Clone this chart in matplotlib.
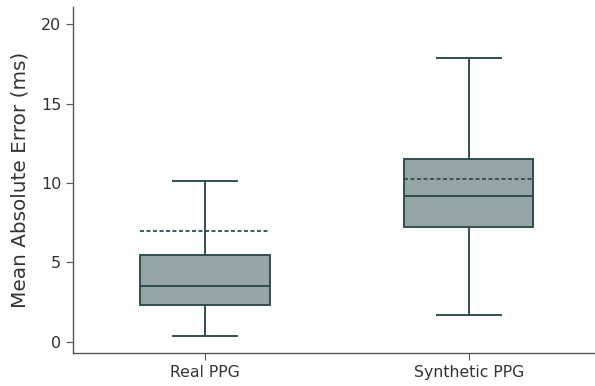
import matplotlib
matplotlib.use("Agg")
import matplotlib.pyplot as plt

categories = ["Real PPG", "Synthetic PPG"]
whislo = [0.35, 1.7]
q1 = [2.3, 7.25]
med = [3.5, 9.2]
q3 = [5.45, 11.5]
whishi = [10.1, 17.85]
means = [7.0, 10.25]

edge = "#2f4f4f"
fill = "#95a5a3"

fig = plt.figure(figsize=(5.95, 3.86), dpi=100)
ax = fig.add_axes([0.1227, 0.0855, 0.887, 0.897])

stats = []
for i, c in enumerate(categories):
    stats.append(dict(label=c, whislo=whislo[i], q1=q1[i], med=med[i],
                      q3=q3[i], whishi=whishi[i], mean=means[i], fliers=[]))

lw = 1.4
ax.bxp(stats, positions=[0, 1], widths=0.49, capwidths=0.245,
       showmeans=True, meanline=True, patch_artist=True,
       boxprops=dict(facecolor=fill, edgecolor=edge, linewidth=lw),
       medianprops=dict(color=edge, linewidth=lw),
       whiskerprops=dict(color=edge, linewidth=lw),
       capprops=dict(color=edge, linewidth=lw),
       meanprops=dict(color=edge, linewidth=1.3, linestyle=(0, (2.2, 1.4))))

ax.set_xlim(-0.5, 1.5)
ax.set_ylim(-0.7, 21.1)
ax.set_yticks([0, 5, 10, 15, 20])
ax.set_xticks([0, 1])
ax.set_xticklabels(categories)
ax.set_ylabel("Mean Absolute Error (ms)", fontsize=14.4, color="#333333", labelpad=8)
for s in ["top", "right"]:
    ax.spines[s].set_visible(False)
for s in ["left", "bottom"]:
    ax.spines[s].set_color("#555555")
    ax.spines[s].set_linewidth(1.0)
ax.tick_params(axis="y", labelsize=11.5, colors="#555555", labelcolor="#333333", length=5, direction="out")
ax.tick_params(axis="x", labelsize=11.3, colors="#555555", labelcolor="#333333", length=5, direction="out")

fig.savefig("out.png", dpi=100)
